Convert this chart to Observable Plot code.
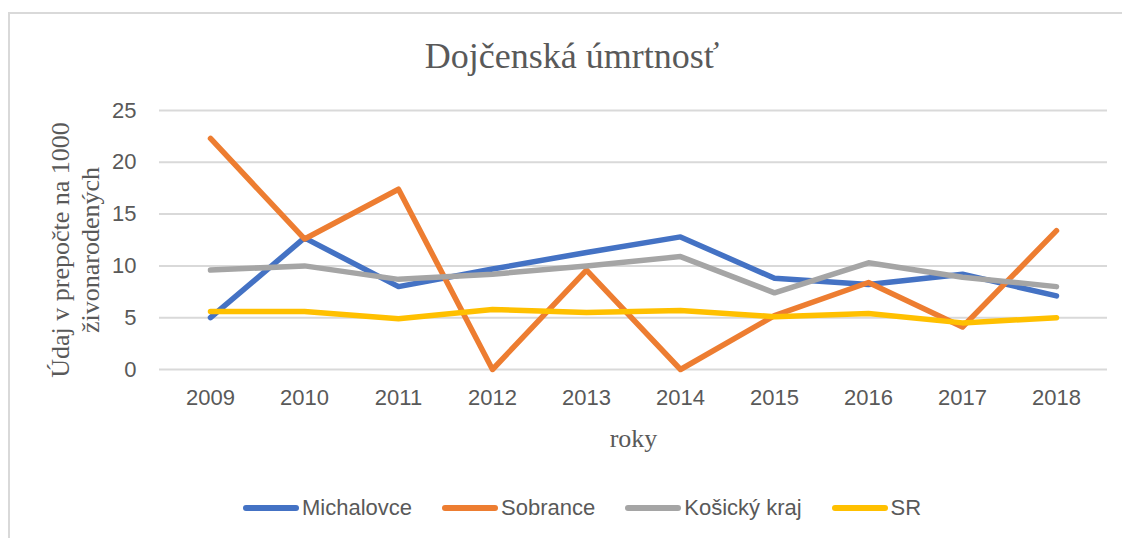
<!DOCTYPE html>
<html>
<head>
<meta charset="utf-8">
<script src="https://cdn.jsdelivr.net/npm/d3@7"></script>
<script src="https://cdn.jsdelivr.net/npm/@observablehq/plot@0.6"></script>
<style>
  html, body { margin: 0; padding: 0; background: #fff; overflow: hidden; }
  body { width: 1122px; height: 538px; position: relative; }
  #frame { position: absolute; left: 8px; top: 12px; width: 1140px; height: 560px; border: 2px solid #d9d9d9; box-sizing: border-box; }
  #title { position: absolute; left: 0; top: 38px; width: 1144px; text-align: center; font-family: "Liberation Serif", serif; font-size: 36px; line-height: 36px; color: #595959; white-space: nowrap; }
  #chart { position: absolute; left: 0; top: 90px; }
  #legend { position: absolute; left: 243px; top: 494px; display: flex; align-items: center; font-family: "Liberation Sans", sans-serif; font-size: 22px; color: #595959; white-space: nowrap; line-height: 28px; }
  .item { display: flex; align-items: center; margin-right: 30px; }
  .sw { width: 56px; height: 6px; border-radius: 3px; margin-right: 3px; }
</style>
</head>
<body>
<div id="frame"></div>
<div id="title">Dojčenská úmrtnosť</div>
<div id="chart"></div>
<div id="legend"></div>
<script>
const years = ["2009","2010","2011","2012","2013","2014","2015","2016","2017","2018"];
const seriesNames = ["Michalovce","Sobrance","Košický kraj","SR"];
const seriesColors = ["#4472C4","#ED7D31","#A5A5A5","#FFC000"];
const michalovce = [5.0, 12.7, 8.0, 9.7, 11.3, 12.8, 8.8, 8.2, 9.2, 7.1];
const sobrance   = [22.3, 12.6, 17.4, 0, 9.6, 0, 5.2, 8.4, 4.1, 13.4];
const kosickyKraj = [9.6, 10.0, 8.7, 9.2, 10.0, 10.9, 7.4, 10.3, 8.9, 8.0];
const sr         = [5.6, 5.6, 4.9, 5.8, 5.5, 5.7, 5.1, 5.4, 4.5, 5.0];
const yTicks = [0, 5, 10, 15, 20, 25];
const yLabel = "Údaj v prepočte na 1000\nživonarodených";
const xLabel = "roky";

const seriesValues = [michalovce, sobrance, kosickyKraj, sr];
const data = [];
seriesNames.forEach((name, s) => {
  years.forEach((yr, i) => data.push({year: yr, value: seriesValues[s][i], series: name}));
});

const chart = Plot.plot({
  width: 1122,
  height: 380,
  marginTop: 20,
  marginBottom: 101,
  marginLeft: 159,
  marginRight: 15,
  style: {fontFamily: "Liberation Sans, sans-serif", fontSize: "22px", color: "#595959", background: "transparent", overflow: "visible"},
  x: {type: "point", domain: years, padding: 0.5, label: null},
  y: {domain: [0, 25], label: null},
  color: {domain: seriesNames, range: seriesColors},
  marks: [
    Plot.ruleY(yTicks, {stroke: "#d9d9d9", strokeWidth: 2}),
    Plot.axisY({ticks: yTicks, tickSize: 0, tickPadding: 23, label: null, fontSize: 22}),
    Plot.axisX({tickSize: 0, tickPadding: 20, label: null, fontSize: 22, tickFormat: d => String(d)}),
    Plot.line(data, {x: "year", y: "value", z: "series", stroke: "series", strokeWidth: 5.5, strokeLinejoin: "round", strokeLinecap: "round"}),
    Plot.text([yLabel], {frameAnchor: "left", textAnchor: "middle", lineAnchor: "middle", rotate: -90, dx: -85, dy: 10, fontFamily: "Liberation Serif, serif", fontSize: 26, lineHeight: 1.15, fill: "#595959"}),
    Plot.text([xLabel], {frameAnchor: "bottom", textAnchor: "middle", dy: 69, lineAnchor: "middle", fontFamily: "Liberation Serif, serif", fontSize: 26, fill: "#595959"})
  ]
});
document.getElementById("chart").appendChild(chart);

const legend = document.getElementById("legend");
seriesNames.forEach((name, i) => {
  const item = document.createElement("div");
  item.className = "item";
  const sw = document.createElement("span");
  sw.className = "sw";
  sw.style.background = seriesColors[i];
  const label = document.createElement("span");
  label.textContent = name;
  item.appendChild(sw);
  item.appendChild(label);
  legend.appendChild(item);
});
</script>
</body>
</html>
